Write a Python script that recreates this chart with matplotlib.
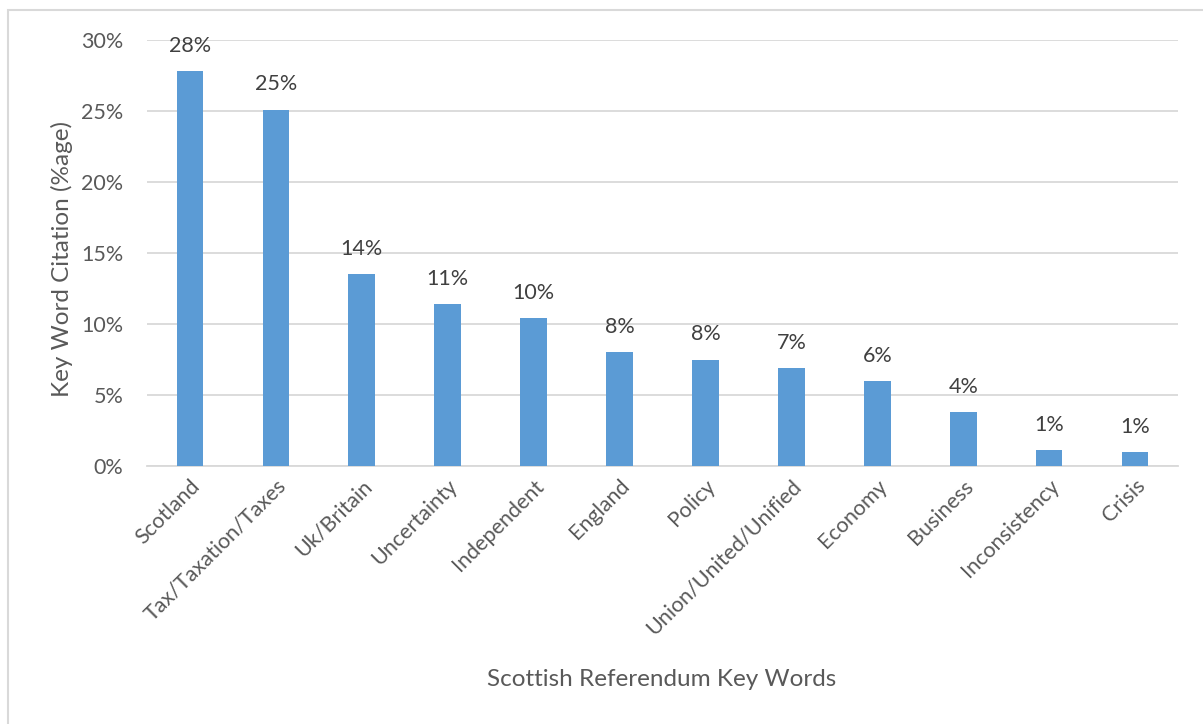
import matplotlib.pyplot as plt
from matplotlib.patches import Rectangle
from matplotlib.ticker import FuncFormatter

plt.rcParams['font.family'] = ['Lato', 'DejaVu Sans']

keywords = ["Scotland", "Tax/Taxation/Taxes", "Uk/Britain", "Uncertainty",
            "Independent", "England", "Policy", "Union/United/Unified",
            "Economy", "Business", "Inconsistency", "Crisis"]
citation_pct = [27.8, 25.1, 13.5, 11.4, 10.4, 8.0, 7.5, 6.9, 6.0, 3.8, 1.1, 1.0]
yticks = [0, 5, 10, 15, 20, 25, 30]

TEXT = "#595959"
BAR = "#5B9BD5"
GRID = "#D9D9D9"

fig = plt.figure(figsize=(12.03, 7.24), dpi=100)
ax = fig.add_axes([147 / 1203, (724 - 466) / 724, (1178 - 147) / 1203, (466 - 40) / 724])

# outer chart frame (only top/left edges fall inside the canvas)
fig.patches.append(Rectangle((8 / 1203, -0.1), 1.2, (724 - 10) / 724 + 0.1,
                             transform=fig.transFigure, fill=False,
                             edgecolor="#D9D9D9", linewidth=1.5))

x = range(len(keywords))
bars = ax.bar(x, citation_pct, width=0.31, color=BAR, zorder=3)

for xi, v in zip(x, citation_pct):
    ax.annotate(f"{round(v):.0f}%", (xi, v), xytext=(0, 11),
                textcoords="offset points", ha="center", va="bottom",
                fontsize=15.5, color="#404040")

ax.set_xlim(-0.5, len(keywords) - 0.5)
ax.set_ylim(0, 30)
ax.set_yticks(yticks)
ax.yaxis.set_major_formatter(FuncFormatter(lambda v, p: f"{v:.0f}%"))
ax.grid(axis="y", color=GRID, linewidth=1.3, zorder=0)
ax.set_axisbelow(True)

for s in ["top", "right", "left"]:
    ax.spines[s].set_visible(False)
ax.spines["bottom"].set_color(GRID)
ax.spines["bottom"].set_linewidth(1.3)

ax.tick_params(axis="both", length=0, labelsize=15.5, colors=TEXT)
ax.tick_params(axis="y", pad=17)
ax.set_xticks(list(x))
ax.set_xticklabels(keywords, rotation=45, ha="right", rotation_mode="anchor")
ax.tick_params(axis="x", pad=7)

fig.text(62 / 1203, 1 - 259 / 724, "Key Word Citation (%age)", rotation=90,
         ha="center", va="center", fontsize=17.5, color=TEXT)
fig.text(662 / 1203, 1 - 680 / 724, "Scottish Referendum Key Words",
         ha="center", va="center", fontsize=17.5, color=TEXT)

fig.savefig("out.png", dpi=100)
